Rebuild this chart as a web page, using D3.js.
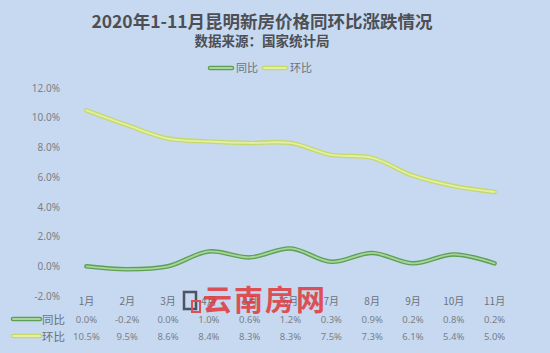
<!DOCTYPE html>
<html>
<head>
<meta charset="utf-8">
<script src="https://cdn.jsdelivr.net/npm/d3@7"></script>
<style>
  body { margin: 0; background: #c6d9f0; }
  text { font-family: "Noto Sans CJK SC", "Noto Sans", sans-serif; }
</style>
</head>
<body>
<div id="chart"></div>
<script>
var months = ["1月", "2月", "3月", "4月", "5月", "6月", "7月", "8月", "9月", "10月", "11月"];
var yoy = [0.0, -0.2, 0.0, 1.0, 0.6, 1.2, 0.3, 0.9, 0.2, 0.8, 0.2];   // 同比
var mom = [10.5, 9.5, 8.6, 8.4, 8.3, 8.3, 7.5, 7.3, 6.1, 5.4, 5.0];  // 环比
var yTicks = [-2, 0, 2, 4, 6, 8, 10, 12];

var width = 550, height = 353;
var left = 66, right = 515;

var series = [
  { name: "同比", values: yoy, outer: "#5c9f55", inner: "#a9d59c" },
  { name: "环比", values: mom, outer: "#c4d96a", inner: "#e3efa4" }
];

var svg = d3.select("#chart").append("svg")
  .attr("width", width)
  .attr("height", height);

svg.append("rect").attr("width", width).attr("height", height).attr("fill", "#c6d9f0");

// title
svg.append("text")
  .attr("x", 262).attr("y", 28)
  .attr("text-anchor", "middle")
  .attr("font-size", 17.5).attr("font-weight", "bold")
  .attr("fill", "#4d4f55")
  .text("2020年1-11月昆明新房价格同环比涨跌情况");
svg.append("text")
  .attr("x", 262).attr("y", 46)
  .attr("text-anchor", "middle")
  .attr("font-size", 13.5).attr("font-weight", "bold")
  .attr("fill", "#4d4f55")
  .text("数据来源：国家统计局");

// scales
var x = d3.scaleBand().domain(months).range([left, right]);
var y = d3.scaleLinear().domain([-2, 12]).range([296, 88]);

// y axis labels
var yAxis = d3.axisLeft(y).tickValues(yTicks)
  .tickFormat(function(d) { return d.toFixed(1) + "%"; })
  .tickSize(0).tickPadding(0);
var ya = svg.append("g").attr("transform", "translate(60,0)").call(yAxis);
ya.select(".domain").remove();
ya.selectAll("text").attr("font-size", 10).attr("fill", "#7a7f88")
  .style("font-family", "'Noto Sans', sans-serif");

// x axis labels
var xAxis = d3.axisBottom(x).tickSize(0).tickPadding(0);
var xa = svg.append("g").attr("transform", "translate(0,298)").call(xAxis);
xa.select(".domain").remove();
xa.selectAll("text").attr("font-size", 10).attr("fill", "#6c717a");

// lines
var line = d3.line()
  .x(function(d, i) { return x(months[i]) + x.bandwidth() / 2; })
  .y(function(d) { return y(d); })
  .curve(d3.curveCatmullRom.alpha(0.5));

series.forEach(function(s) {
  svg.append("path").datum(s.values)
    .attr("d", line).attr("fill", "none")
    .attr("stroke", s.outer).attr("stroke-width", 4.5).attr("stroke-linecap", "round");
  svg.append("path").datum(s.values)
    .attr("d", line).attr("fill", "none")
    .attr("stroke", s.inner).attr("stroke-width", 1.8).attr("stroke-linecap", "round");
});

// legend
function legendKey(g, s, x0, y0, len) {
  g.append("line").attr("x1", x0).attr("x2", x0 + len).attr("y1", y0).attr("y2", y0)
    .attr("stroke", s.outer).attr("stroke-width", 4.5).attr("stroke-linecap", "round");
  g.append("line").attr("x1", x0).attr("x2", x0 + len).attr("y1", y0).attr("y2", y0)
    .attr("stroke", s.inner).attr("stroke-width", 1.8).attr("stroke-linecap", "round");
}
var lg = svg.append("g");
legendKey(lg, series[0], 210, 68, 22);
lg.append("text").attr("x", 236).attr("y", 72).attr("font-size", 11).attr("fill", "#6c717a").text("同比");
legendKey(lg, series[1], 264, 68, 22);
lg.append("text").attr("x", 290).attr("y", 72).attr("font-size", 11).attr("fill", "#6c717a").text("环比");

// data table
var rowY = [323, 340];
series.forEach(function(s, r) {
  legendKey(svg, s, 13, rowY[r] - 4, 27);
  svg.append("text").attr("x", 42).attr("y", rowY[r] + 1)
    .attr("font-size", 11.5).attr("fill", "#6c717a").text(s.name);
  svg.selectAll(null).data(s.values).enter().append("text")
    .attr("x", function(d, i) { return x(months[i]) + x.bandwidth() / 2; })
    .attr("y", rowY[r])
    .attr("text-anchor", "middle")
    .attr("font-size", 9.5).attr("fill", "#7a7f88")
    .style("font-family", "'Noto Sans', sans-serif")
    .text(function(d) { return d.toFixed(1) + "%"; });
});

// watermark (sits over the month labels in the reference)
var wm = svg.append("g").attr("opacity", 0.85);
wm.append("rect").attr("x", 184).attr("y", 292).attr("width", 12).attr("height", 17)
  .attr("fill", "none").attr("stroke", "#3a3f4a").attr("stroke-width", 2.5);
wm.append("rect").attr("x", 192).attr("y", 301).attr("width", 8).attr("height", 11)
  .attr("fill", "none").attr("stroke", "#e0393b").attr("stroke-width", 2);
wm.append("text").attr("x", 203).attr("y", 311)
  .attr("font-size", 29).attr("font-weight", "bold").attr("fill", "#e0393b")
  .attr("letter-spacing", 2)
  .text("云南房网");
</script>
</body>
</html>
